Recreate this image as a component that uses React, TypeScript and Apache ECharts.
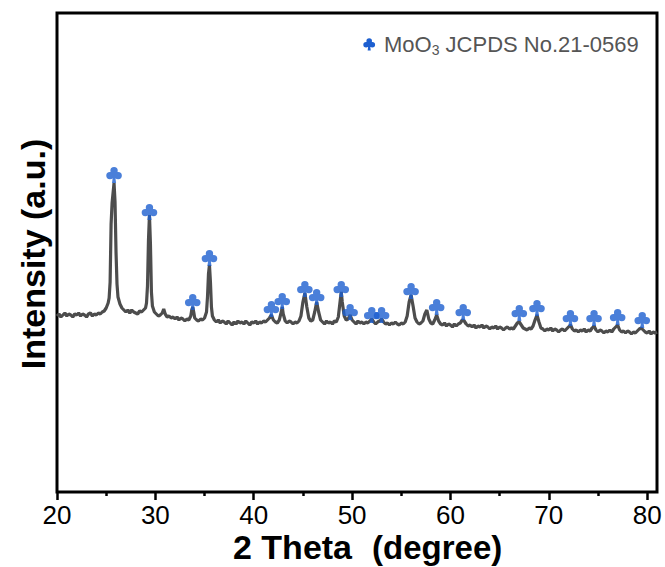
import React, { useEffect, useRef } from "react";
import * as echarts from "echarts";

// XRD pattern: [2θ (degree), intensity (a.u.)]
const patternPoints: [number, number][] = [
  [20.0, 176], [20.2, 178], [20.4, 175], [20.6, 177], [20.8, 179], [21.0, 176], [21.2, 178], [21.4, 177],
  [21.6, 175], [21.8, 178], [22.0, 177], [22.2, 179], [22.4, 176], [22.6, 178], [22.8, 177], [23.0, 175],
  [23.2, 178], [23.4, 179], [23.6, 176], [23.8, 178], [24.0, 177], [24.2, 179], [24.4, 178], [24.6, 180],
  [24.8, 181], [25.0, 184], [25.2, 189], [25.3, 194], [25.4, 210], [25.5, 268], [25.6, 289], [25.7, 299],
  [25.8, 309], [25.9, 290], [26.0, 240], [26.1, 208], [26.2, 195], [26.4, 188], [26.6, 184], [26.8, 182],
  [27.0, 180], [27.2, 182], [27.4, 179], [27.6, 182], [27.8, 180], [28.0, 179], [28.2, 178], [28.4, 181],
  [28.6, 180], [28.8, 182], [29.0, 184], [29.1, 189], [29.2, 206], [29.3, 252], [29.4, 277], [29.5, 248],
  [29.6, 200], [29.7, 186], [29.9, 180], [30.1, 178], [30.3, 176], [30.5, 177], [30.7, 179], [30.85, 183],
  [31.0, 178], [31.2, 175], [31.4, 176], [31.6, 174], [31.8, 175], [32.0, 173], [32.2, 175], [32.4, 172],
  [32.6, 174], [32.8, 173], [33.0, 171], [33.2, 173], [33.4, 172], [33.6, 176], [33.7, 182], [33.8, 185],
  [33.9, 180], [34.0, 174], [34.2, 172], [34.4, 171], [34.6, 173], [34.8, 172], [35.0, 174], [35.2, 180],
  [35.3, 195], [35.4, 218], [35.5, 227], [35.6, 210], [35.7, 185], [35.8, 176], [36.0, 172], [36.2, 170],
  [36.4, 172], [36.6, 169], [36.8, 171], [37.0, 170], [37.2, 168], [37.4, 171], [37.6, 169], [37.8, 167],
  [38.0, 170], [38.2, 168], [38.4, 171], [38.6, 169], [38.8, 170], [39.0, 168], [39.2, 171], [39.4, 169],
  [39.6, 167], [39.8, 170], [40.0, 169], [40.2, 171], [40.4, 168], [40.6, 170], [40.8, 169], [41.0, 171],
  [41.2, 170], [41.4, 172], [41.6, 174], [41.8, 177], [42.0, 172], [42.2, 170], [42.4, 169], [42.6, 172],
  [42.8, 180], [42.9, 185], [43.0, 178], [43.2, 171], [43.4, 169], [43.6, 171], [43.8, 170], [44.0, 168],
  [44.2, 170], [44.4, 169], [44.6, 171], [44.8, 176], [45.0, 190], [45.2, 199], [45.4, 185], [45.6, 174],
  [45.8, 171], [46.0, 172], [46.2, 180], [46.4, 190], [46.6, 180], [46.8, 172], [47.0, 170], [47.2, 168],
  [47.4, 171], [47.6, 169], [47.8, 170], [48.0, 168], [48.2, 171], [48.4, 170], [48.6, 175], [48.8, 192],
  [48.9, 200], [49.0, 190], [49.2, 176], [49.4, 172], [49.6, 173], [49.8, 177], [50.0, 172], [50.2, 170],
  [50.4, 168], [50.6, 171], [50.8, 169], [51.0, 170], [51.2, 168], [51.4, 170], [51.6, 169], [51.8, 171],
  [52.0, 173], [52.2, 170], [52.4, 168], [52.6, 170], [52.8, 171], [53.0, 173], [53.2, 170], [53.4, 168],
  [53.6, 169], [53.8, 167], [54.0, 169], [54.2, 168], [54.4, 170], [54.6, 168], [54.8, 167], [55.0, 169],
  [55.2, 168], [55.4, 170], [55.6, 176], [55.8, 190], [56.0, 197], [56.2, 186], [56.4, 174], [56.6, 170],
  [56.8, 168], [57.0, 169], [57.2, 171], [57.4, 178], [57.6, 182], [57.8, 173], [58.0, 169], [58.2, 168],
  [58.4, 172], [58.6, 177], [58.8, 171], [59.0, 168], [59.2, 167], [59.4, 169], [59.6, 166], [59.8, 168],
  [60.0, 167], [60.2, 165], [60.4, 168], [60.6, 166], [60.8, 168], [61.0, 169], [61.2, 172], [61.4, 171],
  [61.6, 168], [61.8, 166], [62.0, 167], [62.2, 165], [62.4, 167], [62.6, 164], [62.8, 166], [63.0, 165],
  [63.2, 167], [63.4, 164], [63.6, 166], [63.8, 165], [64.0, 163], [64.2, 165], [64.4, 164], [64.6, 166],
  [64.8, 163], [65.0, 165], [65.2, 164], [65.4, 162], [65.6, 164], [65.8, 165], [66.0, 163], [66.2, 164],
  [66.4, 163], [66.6, 166], [66.8, 169], [67.0, 170], [67.2, 167], [67.4, 164], [67.6, 163], [67.8, 162],
  [68.0, 164], [68.2, 163], [68.4, 166], [68.6, 172], [68.8, 177], [69.0, 170], [69.2, 164], [69.4, 163],
  [69.6, 161], [69.8, 163], [70.0, 162], [70.2, 164], [70.4, 161], [70.6, 163], [70.8, 162], [71.0, 160],
  [71.2, 162], [71.4, 163], [71.6, 161], [71.8, 163], [72.0, 165], [72.2, 167], [72.4, 163], [72.6, 161],
  [72.8, 162], [73.0, 160], [73.2, 162], [73.4, 161], [73.6, 163], [73.8, 160], [74.0, 162], [74.2, 161],
  [74.4, 164], [74.6, 166], [74.8, 162], [75.0, 160], [75.2, 162], [75.4, 161], [75.6, 159], [75.8, 161],
  [76.0, 160], [76.2, 162], [76.4, 160], [76.6, 163], [76.8, 165], [77.0, 167], [77.2, 162], [77.4, 160],
  [77.6, 161], [77.8, 159], [78.0, 161], [78.2, 160], [78.4, 158], [78.6, 160], [78.8, 159], [79.0, 161],
  [79.2, 163], [79.4, 164], [79.6, 162], [79.8, 160], [80.0, 159], [80.2, 161], [80.4, 158], [80.6, 160],
  [80.8, 159], [81.0, 160],
];

// MoO3 reference peaks (JCPDS No.21-0569) and the heights of their markers
const peakTheta = [25.8, 29.4, 33.8, 35.5, 41.8, 42.9, 45.2, 46.4, 48.9, 49.8, 52.0, 53.0, 56.0, 58.6, 61.3, 67.0, 68.8, 72.2, 74.6, 77.0, 79.5];
const markerIntensity = [317, 280, 190, 234, 183, 191, 203, 195, 203, 180, 177, 177, 201, 185, 180, 179, 184, 174, 174, 175, 172];

const majorTicks = [20, 30, 40, 50, 60, 70, 80];
const minorTicks = [25, 35, 45, 55, 65, 75];

const CLUB_D =
  "M5.5,5 A4.5,4.5 0 1,1 14.5,5 A4.5,4.5 0 1,1 5.5,5 Z " +
  "M0.5,11 A4.5,4.5 0 1,1 9.5,11 A4.5,4.5 0 1,1 0.5,11 Z " +
  "M10.5,11 A4.5,4.5 0 1,1 19.5,11 A4.5,4.5 0 1,1 10.5,11 Z " +
  "M9,9 L11,9 L12.5,20 L7.5,20 Z";

const BLUE = "#1d5fd0";
const FONT = "'Liberation Sans', Arial, sans-serif";

let registered = false;

export default function App() {
  const ref = useRef<HTMLDivElement>(null);
  useEffect(() => {
    if (!ref.current) return;
    if (!registered) {
      echarts.graphic.registerShape("club", echarts.graphic.extendPath(CLUB_D, {}) as any);
      registered = true;
    }
    const chart = echarts.init(ref.current, undefined, { renderer: "svg" });
    const xBase = {
      type: "value" as const,
      min: 20,
      max: 81,
      splitLine: { show: false },
    };
    chart.setOption({
      animation: false,
      backgroundColor: "#fff",
      grid: {
        left: 57,
        right: 8,
        top: 13,
        bottom: 75,
        show: true,
        borderColor: "#000",
        borderWidth: 3,
      },
      xAxis: [
        {
          ...xBase,
          axisLine: { show: false },
          axisTick: {
            show: true,
            customValues: majorTicks,
            length: 8,
            lineStyle: { color: "#000", width: 2.5 },
          },
          axisLabel: {
            customValues: majorTicks,
            fontSize: 26,
            color: "#000",
            fontFamily: FONT,
            margin: 10,
          },
        },
        {
          ...xBase,
          position: "bottom",
          axisLine: { show: false },
          axisTick: {
            show: true,
            customValues: minorTicks,
            length: 4,
            lineStyle: { color: "#000", width: 2.5 },
          },
          axisLabel: { show: false },
        },
      ],
      yAxis: {
        type: "value",
        min: 0,
        max: 479,
        axisLine: { show: false },
        axisTick: { show: false },
        axisLabel: { show: false },
        splitLine: { show: false },
      },
      series: [
        {
          type: "line",
          data: patternPoints,
          showSymbol: false,
          lineStyle: { color: "#4d4d4d", width: 3.2 },
          z: 2,
        },
        {
          type: "scatter",
          data: peakTheta.map((t, i) => [t, markerIntensity[i]]),
          symbol: "path://" + CLUB_D,
          symbolKeepAspect: true,
          symbolSize: 16,
          itemStyle: { color: BLUE },
          z: 3,
        },
      ],
      graphic: [
        {
          type: "club",
          x: 363,
          y: 38,
          scaleX: 0.62,
          scaleY: 0.62,
          style: { fill: BLUE },
        },
        {
          type: "text",
          x: 384,
          y: 44,
          style: {
            text: "{a|MoO}{s|3}{a| JCPDS No.21-0569}",
            textVerticalAlign: "middle",
            rich: {
              a: { fontSize: 22, fill: "#555", fontFamily: FONT },
              s: { fontSize: 14, fill: "#555", fontFamily: FONT, padding: [11, 0, 0, 0] },
            },
          },
        },
        {
          type: "text",
          x: 233,
          y: 547,
          style: {
            text: "{a|2 Theta}{b|(degree)}",
            textVerticalAlign: "middle",
            rich: {
              a: { fontSize: 34, fontWeight: "bold", fill: "#000", fontFamily: FONT, padding: [0, 20, 0, 0] },
              b: { fontSize: 33, fontWeight: "bold", fill: "#000", fontFamily: FONT },
            },
          },
        },
        {
          type: "text",
          x: 33,
          y: 254,
          rotation: Math.PI / 2,
          style: {
            text: "Intensity (a.u.)",
            textAlign: "center",
            textVerticalAlign: "middle",
            fontSize: 34,
            fontWeight: "bold",
            fill: "#000",
            fontFamily: FONT,
          },
        },
      ],
    });
    return () => chart.dispose();
  }, []);
  return <div ref={ref} style={{ width: 665, height: 567, position: "absolute", left: 0, top: 0 }} />;
}
